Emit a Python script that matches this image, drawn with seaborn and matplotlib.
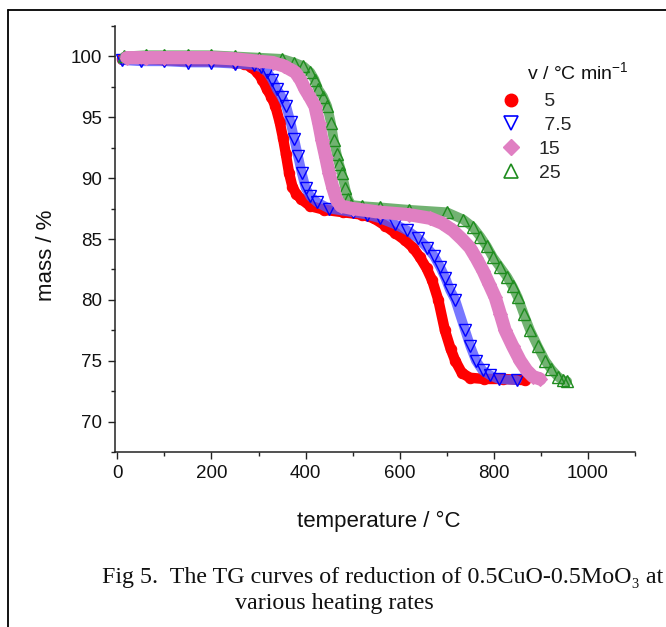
import matplotlib
matplotlib.use("Agg")
import matplotlib.pyplot as plt
from matplotlib.lines import Line2D
from matplotlib.ticker import MultipleLocator
import seaborn as sns
import pandas as pd

# ---- data ----
t5 = [10, 50, 100, 150, 200, 250, 270, 285, 297, 308, 318, 327, 336, 345, 352, 358, 365,
      372, 380, 390, 410, 440, 480, 520, 545, 569, 590, 611, 628, 643, 657, 669, 682, 696,
      708, 718, 732, 749, 780, 820, 866]
m5 = [99.8, 99.8, 99.7, 99.6, 99.6, 99.5, 99.4, 99.1, 98.7, 98.1, 97.3, 96.7, 95.9, 94.6,
      93.3, 92.0, 90.4, 89.3, 88.7, 88.3, 87.7, 87.4, 87.2, 87.0, 86.7, 86.1, 85.5, 84.9,
      84.3, 83.5, 82.6, 81.6, 80.0, 77.5, 76.0, 75.0, 74.0, 73.6, 73.5, 73.5, 73.4]

t75 = [10, 50, 100, 150, 200, 250, 290, 305, 319, 329, 339, 349, 359, 368, 376, 384, 392,
       400, 410, 425, 450, 500, 530, 558, 590, 616, 638, 658, 673, 686, 697, 707, 718, 739,
       750, 762, 776, 792, 810, 849]
m75 = [99.7, 99.6, 99.6, 99.5, 99.5, 99.4, 99.3, 99.1, 98.7, 98.1, 97.3, 96.7, 95.9, 94.6,
       93.2, 91.8, 90.4, 89.2, 88.5, 88.0, 87.5, 87.2, 87.0, 86.7, 86.2, 85.7, 85.1, 84.3,
       83.6, 82.7, 81.8, 80.8, 80.0, 77.5, 76.2, 75.0, 74.2, 73.8, 73.5, 73.4]

t15 = [20, 60, 100, 150, 200, 250, 300, 330, 355, 378, 389, 399, 410, 420, 428, 435, 443,
       450, 458, 466, 475, 500, 558, 620, 665, 690, 713, 732, 749, 763, 777, 790, 803, 814,
       824, 840, 856, 870, 883, 898]
m15 = [99.9, 99.9, 99.9, 99.9, 99.9, 99.8, 99.6, 99.5, 99.2, 98.7, 98.1, 97.3, 96.6, 95.9,
       94.5, 93.1, 91.7, 90.4, 89.2, 88.2, 87.7, 87.5, 87.2, 87.0, 86.7, 86.3, 85.7, 85.0,
       84.3, 83.4, 82.4, 81.3, 80.2, 78.8, 77.5, 76.2, 75.0, 74.2, 73.7, 73.5]

t25 = [15, 60, 100, 150, 200, 250, 300, 350, 375, 395, 410, 419, 427, 437, 446, 454, 460,
       466, 471, 477, 484, 490, 497, 520, 558, 620, 700, 735, 755, 771, 785, 798, 813, 828,
       840, 851, 864, 877, 893, 909, 922, 936, 946, 956]
m25 = [100.0, 100.1, 100.1, 100.1, 100.1, 100.0, 99.9, 99.8, 99.5, 99.2, 98.7, 98.1, 97.3,
       96.7, 95.9, 94.5, 93.1, 92.0, 91.2, 90.4, 89.2, 88.3, 87.8, 87.7, 87.6, 87.4, 87.2,
       86.6, 86.0, 85.2, 84.4, 83.5, 82.7, 81.9, 81.1, 80.2, 78.8, 77.5, 76.2, 75.0, 74.3,
       73.7, 73.4, 73.3]

rates = ["5", "7.5", "15", "25"]
legend_labels = [" 5", " 7.5", "15", "25"]
x_ticks = [0, 200, 400, 600, 800, 1000]
y_ticks = [70, 75, 80, 85, 90, 95, 100]

# ---- style ----
sns.set_style("ticks")
plt.rcParams["font.family"] = ["Liberation Sans", "DejaVu Sans"]
plt.rcParams["mathtext.fontset"] = "custom"
plt.rcParams["mathtext.rm"] = "Liberation Sans"
plt.rcParams["mathtext.it"] = "Liberation Sans:italic"

W, H = 666, 627
fig = plt.figure(figsize=(W / 100, H / 100), dpi=100)
fig.patch.set_facecolor("white")

def fx(px):
    return px / W

def fy(py):
    return 1 - py / H

AX_L, AX_R, AX_T, AX_B = 115, 635, 26, 452
ax = fig.add_axes([fx(AX_L), fy(AX_B), fx(AX_R) - fx(AX_L), fy(AX_T) - fy(AX_B)])
ax.set_facecolor("white")

red = "#ff0000"
blue = "#0000ff"
pink = "#e07fc2"
green = "#1e8c1e"

series = [
    (t5, m5, red, red, "o", True, 7.5, 7.5),
    (t75, m75, blue, "#5555ff", "v", False, 8.0, 7.0),
    (t25, m25, green, "#4f9f4f", "^", False, 8.0, 7.0),
    (t15, m15, pink, pink, "D", True, 7.5, 9.5),
]

for t, m, col, bandcol, mk, filled, ms, lw in series:
    df = pd.DataFrame({"T": t, "m": m})
    sns.lineplot(data=df, x="T", y="m", ax=ax, sort=False, color=bandcol,
                 linewidth=lw, alpha=0.8 if not filled else 1.0,
                 solid_capstyle="round")
    if filled:
        sns.lineplot(data=df, x="T", y="m", ax=ax, sort=False, color=col,
                     linestyle="none", marker=mk, markersize=ms,
                     markeredgecolor=col, markerfacecolor=col)
    else:
        sns.lineplot(data=df, x="T", y="m", ax=ax, sort=False, color=col,
                     linestyle="none", marker=mk, markersize=ms,
                     markeredgecolor=col, markerfacecolor="none", markeredgewidth=1.0)

ax.set_xlim(-5, 1100)
ax.set_ylim(67.5, 102.5)
ax.set_xticks(x_ticks)
ax.set_yticks(y_ticks)
ax.xaxis.set_minor_locator(MultipleLocator(100))
ax.yaxis.set_minor_locator(MultipleLocator(2.5))
ax.tick_params(axis="both", which="major", direction="out", length=5, width=1.0,
               labelsize=13.5, pad=4, colors="#222222", labelcolor="#111111")
ax.tick_params(axis="both", which="minor", direction="out", length=3, width=1.0,
               colors="#222222")
for s in ["top", "right"]:
    ax.spines[s].set_visible(False)
for s in ["left", "bottom"]:
    ax.spines[s].set_linewidth(1.1)
    ax.spines[s].set_color("#222222")

ax.set_xlabel("temperature / °C", fontsize=16, color="#111111")
ax.set_ylabel("mass / %", fontsize=16, color="#111111")
ax.xaxis.set_label_coords((379 - AX_L) / (AX_R - AX_L), (AX_B - 511) / (AX_B - AX_T))
ax.yaxis.set_label_coords((57 - AX_L) / (AX_R - AX_L), (AX_B - 255) / (AX_B - AX_T))

handles = [
    Line2D([], [], linestyle="none", marker="o", color=red, markersize=9),
    Line2D([], [], linestyle="none", marker="v", color=blue, markerfacecolor="none",
           markersize=10, markeredgewidth=1.2),
    Line2D([], [], linestyle="none", marker="D", color=pink, markersize=8),
    Line2D([], [], linestyle="none", marker="^", color=green, markerfacecolor="none",
           markersize=10, markeredgewidth=1.2),
]
leg = ax.legend(handles, legend_labels, loc="upper left",
                bbox_to_anchor=(fx(492), fy(83)), bbox_transform=fig.transFigure,
                frameon=False, fontsize=14, handlelength=1.0, handletextpad=0.9,
                labelspacing=0.32, borderpad=0)
fig.text(fx(527), fy(72), "v / °C min$^{-1}$", fontsize=14, ha="left", va="center",
         color="#111111")

# caption
serif = ["Liberation Serif", "DejaVu Serif"]
fig.text(fx(383), fy(577), "Fig 5.  The TG curves of reduction of 0.5CuO-0.5MoO₃ at",
         family=serif, fontsize=17.3, ha="center", va="center", color="#111111")
fig.text(fx(334), fy(603), "various heating rates",
         family=serif, fontsize=17.3, ha="center", va="center", color="#111111")

# page frame lines
fig.add_artist(Line2D([fx(8), 1.0], [fy(10), fy(10)], color="black", linewidth=1.3))
fig.add_artist(Line2D([fx(8), fx(8)], [fy(10), 0.0], color="black", linewidth=1.3))

fig.savefig("out.png", dpi=100, facecolor="white")
